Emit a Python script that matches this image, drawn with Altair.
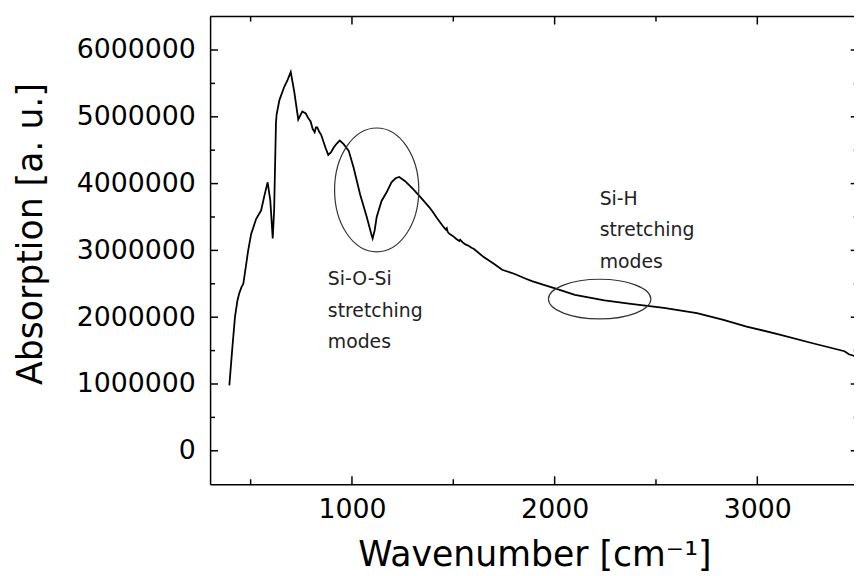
import altair as alt
import pandas as pd

# ---- data ----
wavenumber = [395, 410, 423, 435, 444, 455, 464, 488, 503, 527, 552, 568, 584, 597, 609,
              616, 625, 628, 642, 666, 682, 698, 715, 735, 755, 772, 784, 796, 806, 816,
              822, 829, 838, 848, 869, 883, 897, 910, 925, 940, 959, 984, 1008, 1040, 1073,
              1095, 1102, 1112, 1122, 1146, 1171, 1195, 1215, 1233, 1261, 1301, 1340, 1382,
              1400, 1420, 1440, 1455, 1464, 1468, 1472, 1480, 1490, 1500, 1515, 1530, 1534,
              1546, 1560, 1575, 1590, 1602, 1650, 1700, 1741, 1800, 1855, 1888, 1950, 2002,
              2100, 2246, 2376, 2539, 2702, 2833, 2947, 3110, 3273, 3430, 3452, 3500]
absorption_m = [0.98, 1.55, 2.01, 2.25, 2.36, 2.45, 2.50, 3.00, 3.25, 3.47, 3.60, 3.82, 4.02, 3.75, 3.18,
                3.60, 4.90, 5.03, 5.25, 5.45, 5.55, 5.67, 5.38, 4.96, 5.08, 5.05, 4.98, 4.93, 4.82, 4.77,
                4.84, 4.84, 4.78, 4.73, 4.54, 4.43, 4.47, 4.54, 4.60, 4.645, 4.59, 4.49, 4.24, 3.84, 3.50,
                3.25, 3.18, 3.30, 3.50, 3.74, 3.87, 4.02, 4.08, 4.10, 4.04, 3.92, 3.79, 3.645,
                3.57, 3.48, 3.40, 3.34, 3.31, 3.33, 3.28, 3.25, 3.23, 3.21, 3.17, 3.14, 3.16,
                3.12, 3.09, 3.07, 3.04, 3.02, 2.90, 2.80, 2.71, 2.65, 2.58, 2.54, 2.48, 2.43,
                2.335, 2.25, 2.20, 2.14, 2.06, 1.96, 1.86, 1.74, 1.61, 1.49, 1.445, 1.40]
absorption = [v * 1e6 for v in absorption_m]

x_major = [1000, 2000, 3000]
x_minor = [500, 1500, 2500]
y_major = [0, 1000000, 2000000, 3000000, 4000000, 5000000, 6000000]
y_minor = [500000, 1500000, 2500000, 3500000, 4500000, 5500000]

# annotations (data coordinates)
ellipse_x = [1122, 2222]
ellipse_y = [3905000, 2271000]
label_x = [881, 2222]
label_y = [2483000, 3685000]
label_text = ["Si-O-Si\nstretching\nmodes", "Si-H\nstretching\nmodes"]

df = pd.DataFrame({"wn": wavenumber, "ab": absorption})

FONT = "DejaVu Sans"
W, H = 650, 472
XR = 654.7
xs = alt.Scale(domain=[300, 3500], range=[0, XR], nice=False, zero=False)
ys = alt.Scale(domain=[-500000, 6500000], nice=False, zero=False)

line = alt.Chart(df).mark_line(color="black", strokeWidth=1.8).encode(
    x=alt.X("wn:Q", scale=xs, title="Wavenumber [cm⁻¹]",
            axis=alt.Axis(orient="bottom", values=x_major, ticks=False, grid=False,
                          domain=True, domainColor="black", domainWidth=1.5,
                          labelFont=FONT, labelFontSize=27, labelColor="black",
                          labelPadding=13, format="d",
                          titleFont=FONT, titleFontSize=35, titleFontWeight="normal",
                          titleColor="black", titleBaseline="alphabetic", titleY=82)),
    y=alt.Y("ab:Q", scale=ys, title="Absorption [a. u.]",
            axis=alt.Axis(orient="left", values=y_major, ticks=False, grid=False,
                          domain=True, domainColor="black", domainWidth=1.5,
                          labelFont=FONT, labelFontSize=27, labelColor="black",
                          labelPadding=15, format="d",
                          titleFont=FONT, titleFontSize=35, titleFontWeight="normal",
                          titleColor="black", titleAngle=270, titleBaseline="alphabetic",
                          titleX=-170, titleY=219, titleAlign="center")),
)

# inward ticks drawn as short path symbols (length set by a major/minor size scale)
tick_x_df = pd.DataFrame({"v": x_major + x_minor,
                          "kind": ["major"] * len(x_major) + ["minor"] * len(x_minor)})
tick_y_df = pd.DataFrame({"v": y_major + y_minor,
                          "kind": ["major"] * len(y_major) + ["minor"] * len(y_minor)})
tick_size = alt.Size("kind:N", scale=alt.Scale(domain=["major", "minor"], range=[256, 100]),
                     legend=None)


def side(data, shape, along, fixed_channel, fixed_value):
    enc = {"size": tick_size}
    if along == "x":
        enc["x"] = alt.X("v:Q", scale=xs, axis=None)
        enc["y"] = alt.value(fixed_value)
    else:
        enc["y"] = alt.Y("v:Q", scale=ys, axis=None)
        enc["x"] = alt.value(fixed_value)
    return alt.Chart(data).mark_point(shape=shape, filled=False, color="black",
                                      strokeWidth=1.5, opacity=1).encode(**enc)


tick_layers = [
    side(tick_x_df, "M 0 0 L 0 1", "x", "y", 0),
    side(tick_x_df, "M 0 0 L 0 -1", "x", "y", H),
    side(tick_y_df, "M 0 0 L 1 0", "y", "x", 0),
    side(tick_y_df, "M 0 0 L -1 0", "y", "x", XR),
]

top_frame = alt.Chart(pd.DataFrame({"v": [300]})).mark_rule(color="black", strokeWidth=1.5).encode(
    x=alt.value(0), x2=alt.value(XR), y=alt.value(0))


def ellipse_path(ratio):
    k = 0.5523
    r = ratio
    return (f"M 1 0 C 1 {k*r:.4f} {k:.4f} {r:.4f} 0 {r:.4f} "
            f"C {-k:.4f} {r:.4f} -1 {k*r:.4f} -1 0 "
            f"C -1 {-k*r:.4f} {-k:.4f} {-r:.4f} 0 {-r:.4f} "
            f"C {k:.4f} {-r:.4f} 1 {-k*r:.4f} 1 0 Z")


ell_df = pd.DataFrame({"x": ellipse_x, "y": ellipse_y})
ell1 = alt.Chart(ell_df.iloc[[0]]).mark_point(
    shape=ellipse_path(62.5 / 42.5), size=85 ** 2, filled=False,
    stroke="#333333", strokeWidth=1.2, opacity=1).encode(
    x=alt.X("x:Q", scale=xs, axis=None), y=alt.Y("y:Q", scale=ys, axis=None))
ell2 = alt.Chart(ell_df.iloc[[1]]).mark_point(
    shape=ellipse_path(20 / 51.7), size=103.4 ** 2, filled=False,
    stroke="#333333", strokeWidth=1.2, opacity=1).encode(
    x=alt.X("x:Q", scale=xs, axis=None), y=alt.Y("y:Q", scale=ys, axis=None))

lab_df = pd.DataFrame({"x": label_x, "y": label_y, "t": label_text})
labels = alt.Chart(lab_df).mark_text(
    align="left", baseline="alphabetic", lineBreak="\n", lineHeight=32,
    font=FONT, fontSize=19, color="#222222").encode(
    x=alt.X("x:Q", scale=xs, axis=None), y=alt.Y("y:Q", scale=ys, axis=None),
    text="t:N")

chart = alt.layer(line, top_frame, *tick_layers, ell1, ell2, labels).resolve_axis(
    x="independent", y="independent"
).resolve_scale(size="independent").properties(
    width=W, height=H,
    autosize=alt.AutoSizeParams(type="none"),
    padding={"left": 204, "top": 6, "right": 0, "bottom": 90},
    background="white",
).configure_view(stroke=None)

chart.save("out.html", embed_options={"renderer": "svg", "actions": False})
